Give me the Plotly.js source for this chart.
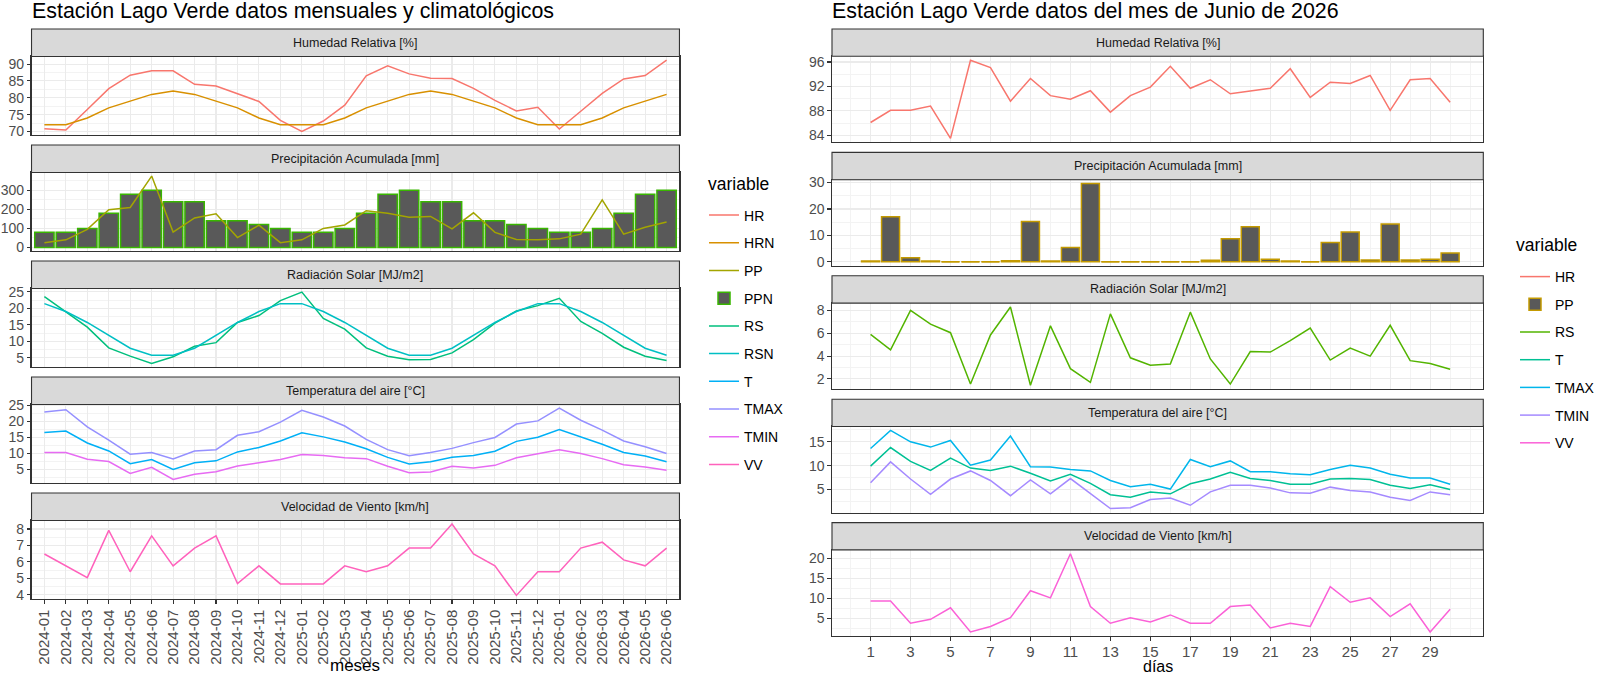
<!DOCTYPE html>
<html><head><meta charset="utf-8">
<script src="https://cdn.plot.ly/plotly-3.0.1.min.js"></script>
<style>html,body{margin:0;padding:0;background:#fff;} #chart{width:1600px;height:676px;}</style>
</head><body><div id="chart"></div>
<script>
// ---------- Data: monthly / climatological (left) ----------
const months = ["2024-01","2024-02","2024-03","2024-04","2024-05","2024-06","2024-07","2024-08","2024-09","2024-10","2024-11","2024-12",
                "2025-01","2025-02","2025-03","2025-04","2025-05","2025-06","2025-07","2025-08","2025-09","2025-10","2025-11","2025-12",
                "2026-01","2026-02","2026-03","2026-04","2026-05","2026-06"];
const hr   = [70.8,70.4,76.5,82.7,86.7,88.0,88.0,84.0,83.5,81.2,78.9,73.3,70.0,73.1,77.8,86.5,89.5,87.1,85.8,85.7,82.8,79.2,76.1,77.2,70.7,76.0,81.3,85.6,86.6,91.2];
const hrn  = [72,72,74,77,79,81,82,81,79,77,74,72,72,72,74,77,79,81,82,81,79,77,74,72,72,72,74,77,79,81];
const pp   = [25,40,95,198,210,375,81,155,177,52,117,25,40,100,118,193,180,158,163,98,182,79,42,41,45,70,250,70,106,134];
const ppn  = [80,80,100,180,280,300,240,240,140,140,120,100,80,80,100,180,280,300,240,240,140,140,120,100,80,80,100,180,280,300];
const rs   = [23.5,19,14.3,8,5.5,3.3,5.3,8.5,9.6,15.7,17.8,22.3,24.9,16.9,13.7,8,5.5,4.4,4.5,6.5,10.5,15.5,19.2,20.8,23,16,12.4,8.2,5.5,4.2];
const rsn  = [21.4,19,15.7,11.7,7.9,5.8,5.8,7.9,11.7,15.7,19,21.4,21.4,19,15.7,11.7,7.9,5.8,5.8,7.9,11.7,15.7,19,21.4,21.4,19,15.7,11.7,7.9,5.8];
const tm   = [16.6,17,13.3,10.8,6.8,8.1,5,7.1,7.7,10.5,11.9,13.9,16.5,15.2,13.6,11.5,8.8,6.7,7.4,8.8,9.4,10.7,13.8,15.1,17.5,15.2,12.9,10.3,9.2,7.4];
const tmax = [23,23.7,18.3,14.2,9.8,10.3,8.3,10.8,11.2,15.7,16.8,19.8,23.5,21.4,18.6,14.4,11.2,9.3,10.3,11.6,13.4,15,19.2,20.2,24.2,20.4,17.3,13.9,12.1,10];
const tmin = [10.3,10.3,8.2,7.5,3.8,5.7,1.9,3.5,4.3,6.1,7.1,8.1,9.7,9.4,8.7,8.4,6,4,4.2,6,5.5,6.3,8.7,10,11.2,10,8.4,6.5,5.8,4.8];
const vv   = [6.48,5.75,5.04,7.92,5.4,7.58,5.76,6.84,7.58,4.68,5.76,4.66,4.66,4.66,5.76,5.4,5.76,6.84,6.84,8.3,6.48,5.76,3.96,5.4,5.4,6.84,7.2,6.12,5.76,6.84];

// ---------- Data: daily, June 2026 (right) ----------
const days   = [1,2,3,4,5,6,7,8,9,10,11,12,13,14,15,16,17,18,19,20,21,22,23,24,25,26,27,28,29,30];
const dayTicks = [1,3,5,7,9,11,13,15,17,19,21,23,25,27,29];
const hrD   = [86.1,88.1,88.1,88.8,83.5,96.3,95.1,89.6,93.3,90.5,89.9,91.3,87.8,90.5,91.9,95.3,91.7,93.1,90.8,91.3,91.7,94.9,90.2,92.7,92.5,93.8,88.1,93.1,93.3,89.4];
const ppD   = [0.3,17.1,1.5,0.3,0,0,0,0.4,15.3,0.3,5.4,29.6,0,0,0,0,0,0.6,8.7,13.3,1.0,0.3,0,7.3,11.3,0.7,14.3,0.7,1.0,3.3];
const rsD   = [5.9,4.55,8.0,6.8,6.05,1.55,5.85,8.3,1.45,6.65,2.9,1.7,7.7,3.85,3.2,3.3,7.85,3.75,1.55,4.4,4.35,5.35,6.45,3.65,4.7,4.0,6.7,3.6,3.35,2.85];
const tD    = [9.9,13.8,10.9,9.0,11.6,9.5,9.0,9.9,8.4,6.8,8.2,6.3,3.9,3.4,4.5,4.1,6.2,7.2,8.6,7.3,6.9,6.1,6.1,7.2,7.3,7.1,5.9,5.2,6.0,5.0];
const tmaxD = [13.6,17.4,15,13.9,15.3,10.1,11.2,16.2,9.8,9.7,9.2,8.9,6.9,5.6,6.1,5.1,11.3,9.8,11,8.75,8.75,8.3,8.1,9.2,10.1,9.5,8.2,7.4,7.4,6.1];
const tminD = [6.4,10.8,7.2,4.0,7.2,8.9,6.9,3.7,7.0,4.1,7.3,4.2,1.0,1.2,2.9,3.2,1.7,4.5,5.9,5.9,5.3,4.3,4.2,5.5,4.8,4.5,3.4,2.7,4.5,3.9];
const vvD   = [9.3,9.3,3.7,4.7,7.6,1.5,2.9,5.1,11.9,10.1,21.2,7.9,3.7,5.1,4.0,5.8,3.7,3.7,7.9,8.3,2.5,3.7,2.9,12.9,9.0,10.1,5.4,8.6,1.5,7.2];

const panelTitles = ["Humedad Relativa [%]","Precipitación Acumulada [mm]","Radiación Solar [MJ/m2]","Temperatura del aire [°C]","Velocidad de Viento [km/h]"];

// ---------- styling / geometry ----------
const W = 1600, H = 676;
const FONT = '"Liberation Sans", Arial, Helvetica, sans-serif';
const GRID = '#EBEBEB', MINOR = '#F3F3F3', DARK = '#333333', TICKTXT = '#4D4D4D';
const BARFILL = '#595959';

function yRange(arrs) {
  let mn = Infinity, mx = -Infinity;
  arrs.forEach(a => a.forEach(v => { if (v < mn) mn = v; if (v > mx) mx = v; }));
  const r = mx - mn;
  return [mn - 0.05 * r, mx + 0.05 * r];
}

const L = {x0: 31.7, x1: 683.3, top: 29, step: 116, strip: 27.5, plot: 78.5};
const R = {x0: 836.7, x1: 1491.7, top: 29, step: 123.4, strip: 27.3, plot: 86};

const leftPanels = [
  {range: yRange([hr, hrn]), dtick: 5},
  {range: yRange([pp, ppn, [0]]), dtick: 100},
  {range: yRange([rs, rsn]), dtick: 5},
  {range: yRange([tm, tmax, tmin]), dtick: 5},
  {range: yRange([vv]), dtick: 1}
];
const rightPanels = [
  {range: yRange([hrD]), dtick: 4},
  {range: yRange([ppD, [0]]), dtick: 10},
  {range: yRange([rsD]), dtick: 2},
  {range: yRange([tD, tmaxD, tminD]), dtick: 5},
  {range: yRange([vvD]), dtick: 5}
];

const layout = {
  width: W, height: H,
  margin: {l: 0, r: 0, t: 0, b: 0},
  paper_bgcolor: '#FFFFFF', plot_bgcolor: '#FFFFFF',
  font: {family: FONT, color: '#000000'},
  showlegend: true,
  hovermode: false,
  barmode: 'overlay',
  shapes: [], annotations: [],
  legend: {
    x: 708 / W, y: 1 - 199.5 / H, xanchor: 'left', yanchor: 'top',
    bgcolor: 'rgba(0,0,0,0)', borderwidth: 0,
    font: {size: 14, color: '#000'},
    traceorder: 'grouped', tracegroupgap: 6.5
  },
  legend2: {
    x: 1524 / W, y: 1 - 261 / H, xanchor: 'left', yanchor: 'top',
    bgcolor: 'rgba(0,0,0,0)', borderwidth: 0,
    font: {size: 14, color: '#000'},
    traceorder: 'grouped', tracegroupgap: 6.5
  }
};

function yAxisDef(domTop, domBottom, anchor, p) {
  return {
    domain: [1 - domBottom / H, 1 - domTop / H], anchor: anchor,
    range: p.range, tickmode: 'linear', tick0: 0, dtick: p.dtick,
    minor: {tickmode: 'linear', tick0: 0, dtick: p.dtick / 2, showgrid: true, gridcolor: MINOR, gridwidth: 1, ticks: ''},
    showgrid: true, gridcolor: GRID, gridwidth: 1.1,
    showline: true, mirror: true, linecolor: DARK, linewidth: 1.1,
    ticks: 'outside', ticklen: 3.5, tickwidth: 1.1, tickcolor: DARK,
    tickfont: {size: 14, color: TICKTXT, family: FONT},
    zeroline: false, fixedrange: true
  };
}

function addStrip(G, i, text) {
  const t = G.top + G.step * i;
  layout.shapes.push({type: 'rect', xref: 'paper', yref: 'paper', layer: 'above',
    x0: G.x0 / W, x1: G.x1 / W, y0: 1 - (t + G.strip) / H, y1: 1 - t / H,
    fillcolor: '#D9D9D9', line: {color: DARK, width: 1.1}});
  layout.annotations.push({xref: 'paper', yref: 'paper', showarrow: false,
    x: (G.x0 + G.x1) / 2 / W, y: 1 - (t + G.strip / 2) / H, xanchor: 'center', yanchor: 'middle',
    text: text, font: {size: 12.5, color: '#1A1A1A', family: FONT}});
}

for (let i = 0; i < 5; i++) {
  // left
  const n = i + 1, xs = n === 1 ? '' : String(n);
  const t = L.top + L.step * i + L.strip, b = t + L.plot;
  layout['xaxis' + xs] = {
    domain: [L.x0 / W, L.x1 / W], anchor: 'y' + xs, type: 'category',
    categoryorder: 'array', categoryarray: months, range: [-0.6, 29.6],
    showgrid: true, gridcolor: GRID, gridwidth: 1.1,
    showline: true, mirror: true, linecolor: DARK, linewidth: 1.1,
    ticks: n === 5 ? 'outside' : '', ticklen: 3.5, tickwidth: 1.1, tickcolor: DARK,
    showticklabels: n === 5, tickangle: -90,
    tickfont: {size: 15, color: TICKTXT, family: FONT},
    zeroline: false, fixedrange: true
  };
  if (n > 1) layout['xaxis' + xs].matches = 'x';
  layout['yaxis' + xs] = yAxisDef(t, b, 'x' + xs, leftPanels[i]);
  addStrip(L, i, panelTitles[i]);

  // right
  const m = i + 6, ms = String(m);
  const t2 = R.top + R.step * i + R.strip, b2 = t2 + R.plot;
  layout['xaxis' + ms] = {
    domain: [R.x0 / W, R.x1 / W], anchor: 'y' + ms, type: 'linear',
    range: [-0.93, 31.66], tickmode: 'array', tickvals: dayTicks, ticktext: dayTicks.map(String),
    minor: {tickmode: 'linear', tick0: 0, dtick: 1, showgrid: true, gridcolor: MINOR, gridwidth: 1, ticks: ''},
    showgrid: true, gridcolor: GRID, gridwidth: 1.1,
    showline: true, mirror: true, linecolor: DARK, linewidth: 1.1,
    ticks: m === 10 ? 'outside' : '', ticklen: 3.5, tickwidth: 1.1, tickcolor: DARK,
    showticklabels: m === 10, ticklabelstandoff: -2,
    tickfont: {size: 15, color: TICKTXT, family: FONT},
    zeroline: false, fixedrange: true
  };
  if (m > 6) layout['xaxis' + ms].matches = 'x6';
  layout['yaxis' + ms] = yAxisDef(t2, b2, 'x' + ms, rightPanels[i]);
  addStrip(R, i, panelTitles[i]);
}

// titles, legend titles and axis titles
function note(text, xpx, ypx, size, xanchor, yanchor, yshift, pad) {
  layout.annotations.push({xref: 'paper', yref: 'paper', showarrow: false, x: xpx / W, y: 1 - ypx / H,
    xanchor: xanchor, yanchor: yanchor, yshift: yshift || 0, borderpad: pad === undefined ? 1 : pad, text: text,
    font: {size: size, color: '#000', family: FONT}});
}
note('Estación Lago Verde datos mensuales y climatológicos', 30, 11, 21.4, 'left', 'middle');
note('Estación Lago Verde datos del mes de Junio de 2026', 835, 11, 21.4, 'left', 'middle');
note('variable', 710, 184, 17.5, 'left', 'middle');
note('variable', 1523, 245, 17.5, 'left', 'middle');
note('meses', (L.x0 + L.x1) / 2, 676, 17, 'center', 'bottom', 0, 0);
note('días', (R.x0 + R.x1) / 2, 676, 16, 'center', 'bottom', 0, 0);

// ---------- traces ----------
function line(x, y, name, color, xa, ya, leg) {
  return {type: 'scatter', mode: 'lines', x: x, y: y, name: name, line: {color: color, width: 1.5},
    xaxis: xa, yaxis: ya, legend: leg, legendgroup: leg + name, hoverinfo: 'skip'};
}
function bars(x, y, name, border, xa, ya, leg) {
  return {type: 'bar', x: x, y: y, name: name, width: 0.9,
    marker: {color: BARFILL, line: {color: border, width: 1.5}},
    xaxis: xa, yaxis: ya, legend: leg, legendgroup: leg + name, hoverinfo: 'skip'};
}

// zero-height daily rain bars are drawn as their outline only
const zeroX = [], zeroY = [];
days.forEach((d, k) => { if (ppD[k] === 0) { zeroX.push(d - 0.45, d + 0.45, null); zeroY.push(0, 0, null); } });

const data = [
  line(months, hr,   'HR',   '#F8766D', 'x',  'y',  'legend'),
  line(months, hrn,  'HRN',  '#D89000', 'x',  'y',  'legend'),
  line(months, pp,   'PP',   '#A3A500', 'x2', 'y2', 'legend'),
  bars(months, ppn,  'PPN',  '#39B600', 'x2', 'y2', 'legend'),
  line(months, rs,   'RS',   '#00BF7D', 'x3', 'y3', 'legend'),
  line(months, rsn,  'RSN',  '#00BFC4', 'x3', 'y3', 'legend'),
  line(months, tm,   'T',    '#00B0F6', 'x4', 'y4', 'legend'),
  line(months, tmax, 'TMAX', '#9590FF', 'x4', 'y4', 'legend'),
  line(months, tmin, 'TMIN', '#E76BF3', 'x4', 'y4', 'legend'),
  line(months, vv,   'VV',   '#FF62BC', 'x5', 'y5', 'legend'),

  line(days, hrD,   'HR',   '#F8766D', 'x6',  'y6',  'legend2'),
  bars(days, ppD,   'PP',   '#C49A00', 'x7',  'y7',  'legend2'),
  line(days, rsD,   'RS',   '#53B400', 'x8',  'y8',  'legend2'),
  line(days, tD,    'T',    '#00C094', 'x9',  'y9',  'legend2'),
  line(days, tmaxD, 'TMAX', '#00B6EB', 'x9',  'y9',  'legend2'),
  line(days, tminD, 'TMIN', '#A58AFF', 'x9',  'y9',  'legend2'),
  line(days, vvD,   'VV',   '#FB61D7', 'x10', 'y10', 'legend2'),
  {type: 'scatter', mode: 'lines', x: zeroX, y: zeroY, xaxis: 'x7', yaxis: 'y7', legend: 'legend2',
   showlegend: false, line: {color: '#C49A00', width: 1.5}, hoverinfo: 'skip', connectgaps: false}
];

Plotly.newPlot('chart', data, layout, {staticPlot: true, displayModeBar: false});
</script>
</body></html>
